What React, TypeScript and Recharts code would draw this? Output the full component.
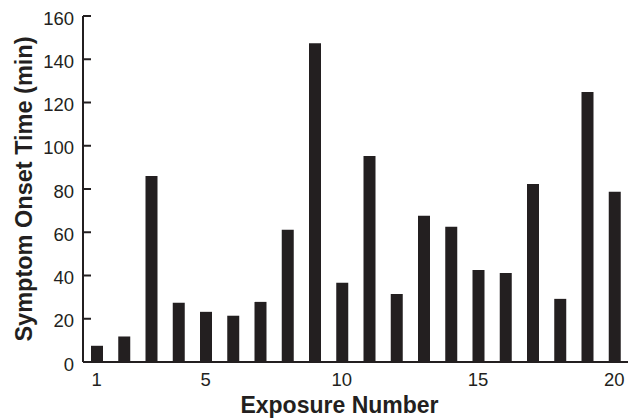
import React from "react";
import { Bar, BarChart, XAxis, YAxis } from "recharts";

const exposures = [1, 2, 3, 4, 5, 6, 7, 8, 9, 10, 11, 12, 13, 14, 15, 16, 17, 18, 19, 20];
const onsetMinutes = [7.5, 11.8, 86, 27.4, 23.2, 21.4, 27.8, 61.1, 147.4, 36.6, 95.3, 31.5, 67.6, 62.6, 42.6, 41.2, 82.3, 29.2, 124.8, 78.7];
const xTicks = [1, 5, 10, 15, 20];
const yTicks = [0, 20, 40, 60, 80, 100, 120, 140, 160];

const data = exposures.map((n, i) => ({ n, t: onsetMinutes[i] }));

const INK = "#231f20";
const FONT = "'Liberation Sans', Arial, Helvetica, sans-serif";

const YTick = (props: any) => {
  const { x, y, payload } = props;
  const axisX = x + 8; // tickSize 6 + tickMargin 2
  return (
    <g>
      <line x1={axisX} x2={axisX + 8} y1={y} y2={y} stroke={INK} strokeWidth={2} />
      <text x={x - 1} y={y + 2} textAnchor="end" dominantBaseline="central" fontSize={18.5} fill={INK} fontFamily={FONT}>
        {payload.value}
      </text>
    </g>
  );
};

const XLabel = (props: any) => {
  const { viewBox } = props;
  const cx = viewBox.x + viewBox.width / 2 - 16;
  return (
    <text x={cx} y={413} textAnchor="middle" fontSize={23} fontWeight="bold" fill={INK} fontFamily={FONT}>
      Exposure Number
    </text>
  );
};

const YLabel = (props: any) => {
  const { viewBox } = props;
  const cy = viewBox.y + viewBox.height / 2;
  const cx = 32;
  return (
    <text x={cx} y={cy} transform={`rotate(-90 ${cx} ${cy})`} textAnchor="middle" fontSize={23.5} fontWeight="bold" fill={INK} fontFamily={FONT}>
      Symptom Onset Time (min)
    </text>
  );
};

export default function App() {
  return (
    <div style={{ position: "absolute", left: 0, top: 0, background: "#fff" }}>
      <BarChart width={641} height={418} data={data} margin={{ top: 16, right: 13, left: 0, bottom: 0 }}>
        <XAxis
          dataKey="n"
          type="number"
          domain={[0.5, 20.5]}
          ticks={xTicks}
          tickLine={false}
          tickMargin={5}
          height={56}
          axisLine={{ stroke: INK, strokeWidth: 2 }}
          tick={{ fontSize: 18.5, fill: INK, fontFamily: FONT }}
          label={<XLabel />}
        />
        <YAxis
          domain={[0, 160]}
          ticks={yTicks}
          width={83}
          tickLine={false}
          axisLine={{ stroke: INK, strokeWidth: 2 }}
          tick={<YTick />}
          label={<YLabel />}
        />
        <Bar dataKey="t" fill={INK} barSize={12} isAnimationActive={false} />
      </BarChart>
    </div>
  );
}
